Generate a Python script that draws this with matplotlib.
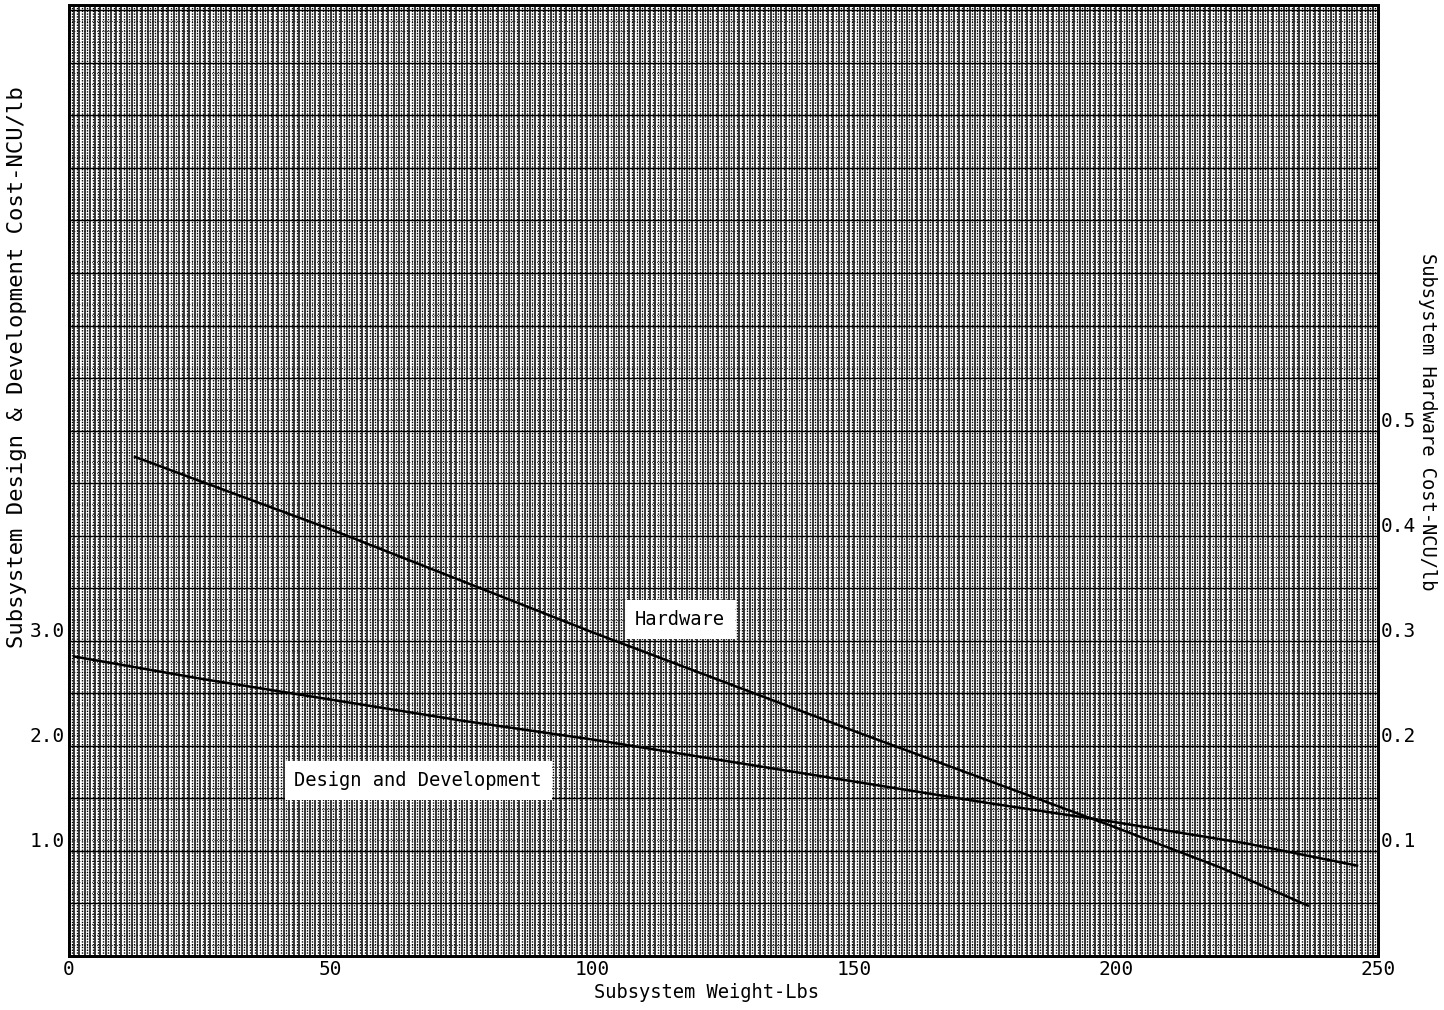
import matplotlib
matplotlib.use("Agg")
import matplotlib.pyplot as plt
import numpy as np

plt.rcParams["font.family"] = ["DejaVu Sans Mono"]

# Subsystem weight (lb) vs. cost per pound
weight_dd = [1, 25, 50, 75, 100, 125, 150, 175, 199, 225, 246]
cost_dd = [2.85, 2.64, 2.44, 2.24, 2.06, 1.86, 1.66, 1.46, 1.28, 1.07, 0.86]

weight_hw = [12.6, 25, 50, 75, 100, 125, 150, 175, 199, 220, 236.6]
cost_hw = [0.475, 0.452, 0.406, 0.357, 0.308, 0.261, 0.214, 0.168, 0.124, 0.084, 0.048]

x_ticks = [0, 50, 100, 150, 200, 250]
dd_ticks = [1.0, 2.0, 3.0]
hw_ticks = [0.1, 0.2, 0.3, 0.4, 0.5]

X_MAX = 250
HW_MAX = 0.905
DD_MAX = HW_MAX * 10

fig = plt.figure(figsize=(14.44, 10.10), dpi=100)
ax = fig.add_axes([69 / 1444, 1 - 956 / 1010, (1378 - 69) / 1444, (956 - 5) / 1010])
ax2 = ax.twinx()

ax.set_xlim(0, X_MAX)
ax.set_ylim(0, DD_MAX)
ax2.set_ylim(0, HW_MAX)

# graph paper ruling
fine = np.arange(0.5, X_MAX, 1.0)
coarse = np.arange(1, X_MAX, 1.0)
ax.vlines(fine, 0, DD_MAX, colors="black", linewidth=1.0,
          linestyles=(0, (1, 1.0)), zorder=1)
ax.vlines(coarse, 0, DD_MAX, colors="black", linewidth=1.1, zorder=1)
ax.hlines(np.arange(0.1, DD_MAX, 0.1), 0, X_MAX, colors="black", linewidth=0.6,
          linestyles=(0, (1, 2)), zorder=1)
ax.hlines(np.arange(0.5, DD_MAX, 0.5), 0, X_MAX, colors="black", linewidth=1.0, zorder=2)

ax.plot(weight_dd, cost_dd, color="black", linewidth=1.8, zorder=4)
ax2.plot(weight_hw, cost_hw, color="black", linewidth=1.8, zorder=4)

ax2.text(116.7, 0.32, "Hardware", fontsize=13.5, ha="center", va="center",
         bbox=dict(facecolor="white", edgecolor="none", pad=7), zorder=5)
ax2.text(66.7, 0.167, "Design and Development", fontsize=13.5, ha="center",
         va="center", bbox=dict(facecolor="white", edgecolor="none", pad=7), zorder=5)

ax.set_xticks(x_ticks)
ax.set_xticklabels([str(v) for v in x_ticks], fontsize=14)
ax.set_yticks(dd_ticks)
ax.set_yticklabels([f"{v:.1f}" for v in dd_ticks], fontsize=14, va="bottom")
ax2.set_yticks(hw_ticks)
ax2.set_yticklabels([f"{v:.1f}" for v in hw_ticks], fontsize=14, va="bottom")
ax.tick_params(length=0, pad=3)
ax2.tick_params(length=0, pad=2)

for a in (ax, ax2):
    for s in a.spines.values():
        s.set_linewidth(2.0)

fig.text(707 / 1444, 1 - 993 / 1010, "Subsystem Weight-Lbs", fontsize=13.5,
         ha="center", va="center")
fig.text(17 / 1444, 1 - 367 / 1010, "Subsystem Design & Development Cost-NCU/lb",
         fontsize=16, rotation=90, ha="center", va="center")
fig.text(1428 / 1444, 1 - 422 / 1010, "Subsystem Hardware Cost-NCU/lb",
         fontsize=13.5, rotation=270, ha="center", va="center")

fig.savefig("out.png", dpi=100, facecolor="white")
